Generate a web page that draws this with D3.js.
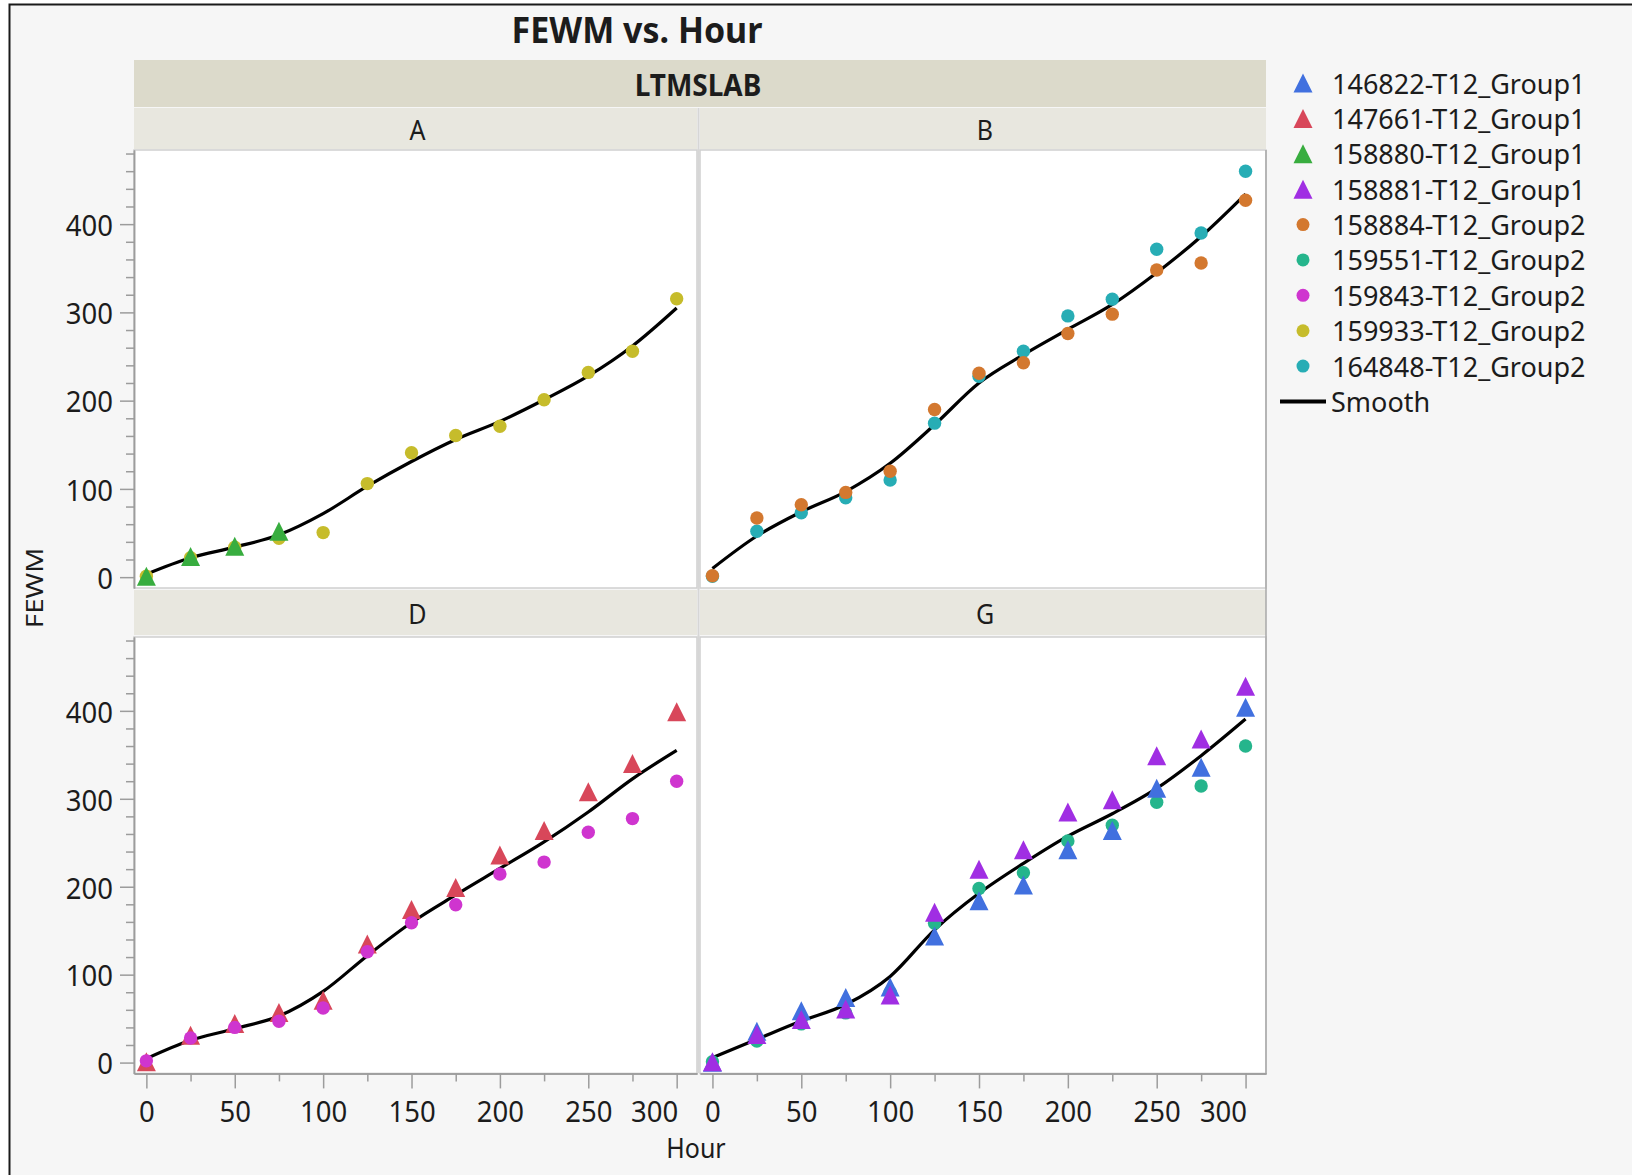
<!DOCTYPE html>
<html><head><meta charset="utf-8">
<script src="https://cdn.jsdelivr.net/npm/d3@7"></script>
<style>
body{margin:0;background:#fff;}
svg{display:block;}
text{font-family:"Noto Sans","Open Sans",sans-serif;fill:#1c1c1c;}
</style>
</head><body>
<svg id="c" width="1632" height="1175"></svg>
<script>
// ---------------- DATA ----------------
const hours = [0, 25, 50, 75, 100, 125, 150, 175, 200, 225, 250, 275, 300];
const panelNames = ["A", "B", "D", "G"];
const seriesNames = ["146822-T12_Group1", "147661-T12_Group1", "158880-T12_Group1", "158881-T12_Group1",
  "158884-T12_Group2", "159551-T12_Group2", "159843-T12_Group2", "159933-T12_Group2", "164848-T12_Group2"];
const seriesPanel = ["G", "D", "A", "G", "B", "G", "D", "A", "B"];
const seriesShape = ["triangle", "triangle", "triangle", "triangle", "circle", "circle", "circle", "circle", "circle"];

// FEWM values per series at each hour
const fewm146822 = [0.5, 35.5, 59, 74, 86, 144, 184, 202, 242, 264, 312, 336, 404];
const fewm147661 = [1, 31, 44.5, 57, 71, 135, 174, 199, 236, 264, 308, 340, 399];
const fewm158880 = [1, 23.5, 35, 52];
const fewm158881 = [1, 32, 49, 61, 77, 171, 220, 242, 285, 299, 349, 368, 428];
const fewm158884 = [1.5, 67, 82, 96, 120, 190, 231, 243, 276, 298, 348, 356, 427];
const fewm159551 = [1, 24.5, 44, 56.5, 80, 158.5, 198, 216, 252, 270, 296, 314.5, 360];
const fewm159843 = [2, 28, 40, 47, 62, 126, 159, 179.5, 214.5, 228, 262, 277.5, 320];
const fewm159933 = [1, 22, 34, 44, 50.5, 106, 141, 160.5, 171, 201, 232, 256, 315.5];
const fewm164848 = [1, 52, 73, 90, 110, 174.5, 227.5, 256, 296, 315, 371.5, 390, 460];
const seriesValues = [fewm146822, fewm147661, fewm158880, fewm158881, fewm158884, fewm159551, fewm159843, fewm159933, fewm164848];

// Smoother curves, at the same hours
const smoothA = [3.4, 22, 34, 48, 72, 103, 131, 156, 176.5, 201, 228, 262, 305];
const smoothB = [9.8, 46.6, 74, 97, 129, 172.7, 220, 252, 280.7, 309, 345, 386, 434];
const smoothD = [4.5, 25.4, 38.5, 53, 81, 121.6, 159.3, 190.7, 220.8, 251, 285, 322.7, 355];
const smoothG = [5.7, 26.5, 47.2, 66, 98, 151, 192.5, 226.5, 257.5, 283, 311.8, 349, 390.7];
const smoothByPanel = {A: smoothA, B: smoothB, D: smoothD, G: smoothG};

// Axis ticks
const xTicks = [0, 50, 100, 150, 200, 250, 300];
const xMinorTicks = [25, 75, 125, 175, 225, 275];
const yTicks = [0, 100, 200, 300, 400];
const yMinorTicks = [20, 40, 60, 80, 120, 140, 160, 180, 220, 240, 260, 280, 320, 340, 360, 380, 420, 440, 460, 480];

// ---------------- STYLE / LAYOUT ----------------
const palette = ["#4170df", "#d8475a", "#38ad3f", "#a02ee3", "#d3782f", "#25b58c", "#cf35cf", "#c6bc2b", "#27adb5"];
const drawOrder = [8, 4, 5, 7, 1, 6, 2, 0, 3];
const S = 1.06; // vertical text stretch
const cols = [{x0: 134, x1: 697}, {x0: 700, x1: 1266}];
const rows = [{y0: 150, y1: 588}, {y0: 637, y1: 1073.4}];
const panelPos = {A: [0, 0], B: [1, 0], D: [0, 1], G: [1, 1]};
const xDomain = [-7, 311.5], yDomain = [-12.3, 484];
const axisGrey = "#9c9c9c";

const svg = d3.select("#c");

// frame
svg.append("rect").attr("x", 9.5).attr("y", 4.5).attr("width", 1700).attr("height", 1300)
  .attr("fill", "#f6f6f6").attr("stroke", "#1a1a1a").attr("stroke-width", 2);

// title
svg.append("text").attr("transform", `translate(637,43) scale(1,${S})`)
  .attr("text-anchor", "middle").attr("font-size", 34).attr("font-weight", 700).text("FEWM vs. Hour");

// top strip
svg.append("rect").attr("x", 134).attr("y", 60).attr("width", 1266 - 134).attr("height", 47).attr("fill", "#dcdacb");
svg.append("text").attr("transform", `translate(698,84) scale(1,${S})`).attr("text-anchor", "middle")
  .attr("dominant-baseline", "central").attr("font-size", 28).attr("font-weight", 700).text("LTMSLAB");

const xScales = cols.map(c => d3.scaleLinear().domain(xDomain).range([c.x0, c.x1]));
const yScales = rows.map(r => d3.scaleLinear().domain(yDomain).range([r.y1, r.y0]));

const stripRows = [{y0: 108, y1: 149}, {y0: 590, y1: 635}];

const tri = {draw(ctx, size) { const w = Math.sqrt(size), h = w; ctx.moveTo(0, -h / 2); ctx.lineTo(w / 2, h / 2); ctx.lineTo(-w / 2, h / 2); ctx.closePath(); }};
const triPath = d3.symbol().type(tri).size(19 * 19);

panelNames.forEach(p => {
  const [ci, ri] = panelPos[p];
  const c = cols[ci], r = rows[ri], sr = stripRows[ri];
  const x = xScales[ci], y = yScales[ri];
  // strip
  svg.append("rect").attr("x", c.x0).attr("y", sr.y0).attr("width", c.x1 - c.x0).attr("height", sr.y1 - sr.y0).attr("fill", "#e8e7df");
  svg.append("text").attr("transform", `translate(${(c.x0 + c.x1) / 2 + 2},${(sr.y0 + sr.y1) / 2 + 1}) scale(1,${S})`)
    .attr("text-anchor", "middle").attr("dominant-baseline", "central").attr("font-size", 25).text(p);
  // plot bg
  svg.append("rect").attr("x", c.x0).attr("y", r.y0).attr("width", c.x1 - c.x0).attr("height", r.y1 - r.y0)
    .attr("fill", "#fff").attr("stroke", "#cfcfcf").attr("stroke-width", 1.5);
  const g = svg.append("g");
  // smooth
  const sm = smoothByPanel[p];
  g.append("path").datum(hours.map((h, i) => [h, sm[i]]))
    .attr("d", d3.line().x(d => x(d[0])).y(d => y(d[1])).curve(d3.curveMonotoneX))
    .attr("fill", "none").attr("stroke", "#000").attr("stroke-width", 3.2);
  // points
  drawOrder.forEach(si => {
    if (seriesPanel[si] !== p) return;
    const vals = seriesValues[si];
    const pts = vals.map((v, i) => [hours[i], v]);
    if (seriesShape[si] === "triangle") {
      g.selectAll(null).data(pts).enter().append("path")
        .attr("transform", d => `translate(${x(d[0])},${y(d[1])})`).attr("d", triPath).attr("fill", palette[si]);
    } else {
      g.selectAll(null).data(pts).enter().append("circle")
        .attr("cx", d => x(d[0])).attr("cy", d => y(d[1])).attr("r", 6.7).attr("fill", palette[si]);
    }
  });
});

// vertical separators between columns
svg.append("line").attr("x1", 698.5).attr("x2", 698.5).attr("y1", 108).attr("y2", 1073).attr("stroke", "#d6d6d6").attr("stroke-width", 2);
// right border
svg.append("line").attr("x1", 1266).attr("x2", 1266).attr("y1", 150).attr("y2", 1074).attr("stroke", "#a8a8a8").attr("stroke-width", 1.5);

// y axes
rows.forEach((r, ri) => {
  const y = yScales[ri];
  const gMin = svg.append("g").attr("transform", "translate(134,0)")
    .call(d3.axisLeft(y).tickValues(yMinorTicks).tickSize(8).tickSizeOuter(0).tickFormat(""));
  const gMaj = svg.append("g").attr("transform", "translate(134,0)")
    .call(d3.axisLeft(y).tickValues(yTicks).tickSize(14).tickSizeOuter(0).tickPadding(7).tickFormat(d3.format("d")));
  [gMin, gMaj].forEach(gg => { gg.selectAll("path,line").attr("stroke", axisGrey).attr("stroke-width", 1.5); });
  gMaj.selectAll("text").attr("font-size", 27.5).attr("font-family", null).attr("fill", "#1c1c1c")
    .attr("dy", null).attr("dominant-baseline", "central").attr("transform", `scale(1,${S})`);
});

// x axes
cols.forEach((c, ci) => {
  const x = xScales[ci];
  const yb = rows[1].y1;
  const gMin = svg.append("g").attr("transform", `translate(0,${yb})`)
    .call(d3.axisBottom(x).tickValues(xMinorTicks).tickSize(8).tickSizeOuter(0).tickFormat(""));
  const gMaj = svg.append("g").attr("transform", `translate(0,${yb})`)
    .call(d3.axisBottom(x).tickValues(xTicks).tickSize(15).tickSizeOuter(0).tickFormat(d3.format("d")));
  [gMin, gMaj].forEach(gg => { gg.selectAll("path,line").attr("stroke", axisGrey).attr("stroke-width", 1.5); });
  gMaj.selectAll("text").attr("font-size", 27.5).attr("font-family", null).attr("fill", "#1c1c1c")
    .attr("y", 0).attr("dy", null).attr("dominant-baseline", "central")
    .attr("transform", `translate(0,37) scale(1,${S})`)
    .attr("text-anchor", d => d === xTicks[xTicks.length - 1] ? "end" : "middle")
    .attr("x", d => d === xTicks[xTicks.length - 1] ? 1 : 0);
});

// axis titles
svg.append("text").attr("transform", `translate(696,1158) scale(1,${S})`).attr("text-anchor", "middle")
  .attr("font-size", 25).text("Hour");
svg.append("text").attr("transform", `translate(43,588) rotate(-90) scale(1.2,1)`).attr("text-anchor", "middle")
  .attr("font-size", 23).text("FEWM");

// legend
const lg = svg.append("g");
const legY = d3.scaleLinear().domain([0, 9]).range([83, 401.5]);
seriesNames.forEach((n, i) => {
  const yy = legY(i);
  if (seriesShape[i] === "triangle") {
    lg.append("path").attr("transform", `translate(1303,${yy})`).attr("d", triPath).attr("fill", palette[i]);
  } else {
    lg.append("circle").attr("cx", 1303).attr("cy", yy).attr("r", 6.5).attr("fill", palette[i]);
  }
  lg.append("text").attr("transform", `translate(1332,${yy})`).attr("dominant-baseline", "central")
    .attr("font-size", 27).text(n);
});
lg.append("line").attr("x1", 1280).attr("x2", 1326).attr("y1", legY(9)).attr("y2", legY(9)).attr("stroke", "#000").attr("stroke-width", 4);
lg.append("text").attr("transform", `translate(1331,${legY(9)})`).attr("dominant-baseline", "central")
  .attr("font-size", 27).text("Smooth");
</script>
</body></html>
